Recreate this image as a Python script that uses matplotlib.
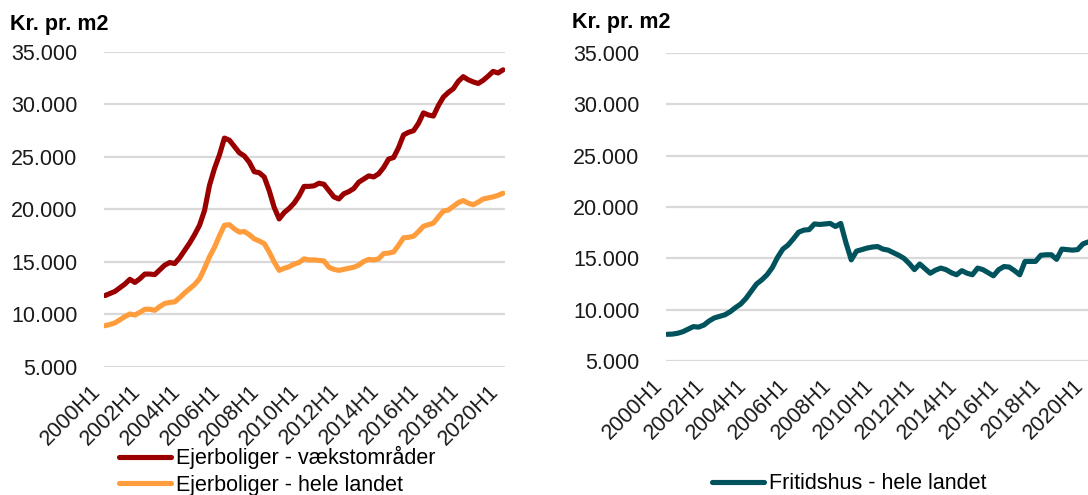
import matplotlib
matplotlib.use("Agg")
from matplotlib import pyplot as plt
from matplotlib.ticker import FuncFormatter

plt.rcParams['font.family'] = ['Liberation Sans', 'DejaVu Sans']

# quarterly observations 2000Q1 - 2020Q1, kr. pr. m2 (in 1000)
vaekst = [11.8, 12.0, 12.2, 12.55, 12.9, 13.35, 13.05, 13.4, 13.85, 13.85,
          13.8, 14.25, 14.7, 14.95, 14.85, 15.4, 16.1, 16.8, 17.6, 18.5,
          19.9, 22.3, 23.9, 25.2, 26.8, 26.6, 26.0, 25.4, 25.1, 24.5,
          23.6, 23.5, 23.1, 21.8, 20.2, 19.1, 19.7, 20.1, 20.6, 21.3,
          22.2, 22.2, 22.25, 22.5, 22.4, 21.8, 21.2, 21.0, 21.5, 21.7,
          22.0, 22.6, 22.9, 23.2, 23.1, 23.4, 24.0, 24.8, 24.95, 25.9,
          27.1, 27.35, 27.5, 28.2, 29.2, 29.0, 28.9, 29.9, 30.7, 31.15,
          31.5, 32.2, 32.65, 32.35, 32.15, 32.0, 32.3, 32.7, 33.15, 33.0,
          33.3]
hele_landet = [8.93, 9.05, 9.2, 9.5, 9.8, 10.05, 9.95, 10.2, 10.5, 10.5,
               10.4, 10.75, 11.05, 11.15, 11.2, 11.6, 12.05, 12.45, 12.85, 13.4,
               14.4, 15.5, 16.4, 17.5, 18.5, 18.55, 18.15, 17.85, 17.9, 17.6,
               17.2, 17.0, 16.75, 15.95, 15.0, 14.2, 14.4, 14.55, 14.8, 14.95,
               15.3, 15.2, 15.2, 15.15, 15.1, 14.5, 14.3, 14.2, 14.3, 14.4,
               14.5, 14.7, 15.05, 15.25, 15.2, 15.3, 15.8, 15.85, 15.95, 16.6,
               17.3, 17.35, 17.45, 17.9, 18.4, 18.55, 18.7, 19.3, 19.85, 19.95,
               20.3, 20.65, 20.85, 20.6, 20.45, 20.7, 21.0, 21.1, 21.2, 21.35,
               21.55]
fritidshus = [7.6, 7.62, 7.7, 7.85, 8.1, 8.35, 8.3, 8.5, 8.9, 9.2,
              9.35, 9.5, 9.8, 10.2, 10.55, 11.1, 11.8, 12.5, 12.9, 13.4,
              14.1, 15.1, 15.9, 16.3, 16.9, 17.55, 17.75, 17.8, 18.35, 18.3,
              18.35, 18.4, 18.1, 18.4, 16.5, 14.85, 15.7, 15.85, 16.0, 16.1,
              16.15, 15.9, 15.8, 15.55, 15.3, 15.0, 14.5, 13.9, 14.45, 14.0,
              13.55, 13.85, 14.05, 13.9, 13.6, 13.4, 13.8, 13.55, 13.4, 14.05,
              13.9, 13.6, 13.3, 13.9, 14.2, 14.15, 13.8, 13.4, 14.7, 14.7,
              14.7, 15.3, 15.35, 15.35, 14.9, 15.9, 15.85, 15.8, 15.85, 16.4,
              16.6]

years = list(range(2000, 2021, 2))
tick_labels = [str(y) + 'H1' for y in years]
tick_pos = [(y - 2000) * 4 for y in years]
x = list(range(len(vaekst)))

FS = 15.5

fig = plt.figure(figsize=(10.88, 4.95), dpi=100)
ax1 = fig.add_axes([0.0956, 0.2586, 0.3686, 0.6364])
ax2 = fig.add_axes([0.6121, 0.2707, 0.3900, 0.6222])

fmt = FuncFormatter(lambda v, p: f'{int(v):,}'.replace(',', '.'))

def style(ax):
    ax.set_ylim(5000, 35000)
    ax.set_yticks(range(5000, 35001, 5000))
    ax.yaxis.set_major_formatter(fmt)
    ax.set_xlim(-0.2, 80.4)
    ax.set_xticks(tick_pos)
    ax.set_xticklabels(tick_labels, rotation=45, ha='right')
    ax.grid(axis='y', color='#d9d9d9', linewidth=1.6)
    ax.set_axisbelow(True)
    for s in ax.spines.values():
        s.set_visible(False)
    ax.tick_params(axis='y', length=0, pad=19, labelsize=FS, labelcolor='#1a1a1a')
    ax.tick_params(axis='x', length=0, pad=10, labelsize=FS, labelcolor='#1a1a1a')

l1, = ax1.plot(x, [v * 1000 for v in vaekst], color='#9a0000', lw=3.7,
               solid_capstyle='round', label='Ejerboliger - vækstområder')
l2, = ax1.plot(x, [v * 1000 for v in hele_landet], color='#ff9d3c', lw=3.7,
               solid_capstyle='round', label='Ejerboliger - hele landet')
style(ax1)

l3, = ax2.plot(x, [v * 1000 for v in fritidshus], color='#00525c', lw=3.7,
               solid_capstyle='round', label='Fritidshus - hele landet')
style(ax2)

fig.text(0.0095, 0.95, 'Kr. pr. m2', fontsize=FS, fontweight='bold', va='center')
fig.text(0.5255, 0.954, 'Kr. pr. m2', fontsize=FS, fontweight='bold', va='center')

fig.legend(handles=[l1, l2], loc='upper left', bbox_to_anchor=(0.109, 0.099),
           frameon=False, fontsize=FS, handlelength=2.45, handletextpad=0.2,
           borderpad=0, borderaxespad=0, labelspacing=0.25)
fig.legend(handles=[l3], loc='upper left', bbox_to_anchor=(0.654, 0.044),
           frameon=False, fontsize=FS, handlelength=2.45, handletextpad=0.2,
           borderpad=0, borderaxespad=0)

fig.savefig('out.png', dpi=100)
